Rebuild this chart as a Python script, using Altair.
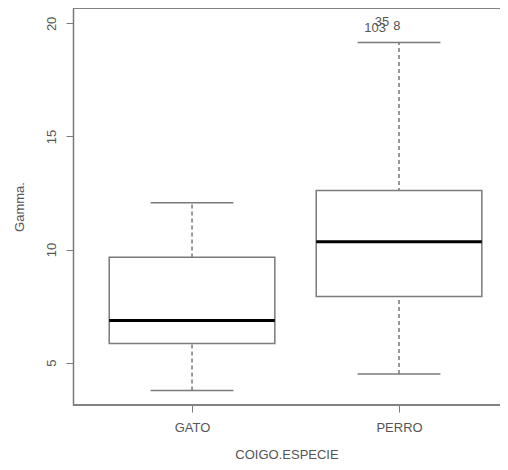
import altair as alt
import pandas as pd

categories = ["GATO", "PERRO"]
lower_whisker = [3.77, 4.50]
q1 = [5.85, 7.93]
median = [6.86, 10.35]
q3 = [9.66, 12.61]
upper_whisker = [12.07, 19.15]

outlier_labels = ["35", "103", "8"]
outlier_values = [20.04, 19.80, 19.90]
outlier_xpos = [1.918, 1.884, 1.99]

df = pd.DataFrame({
    "cat": categories,
    "pos": [1, 2],
    "lo": lower_whisker,
    "q1": q1,
    "med": median,
    "q3": q3,
    "hi": upper_whisker,
})
df["bl"] = df["pos"] - 0.4
df["br"] = df["pos"] + 0.4
df["cl"] = df["pos"] - 0.2
df["cr"] = df["pos"] + 0.2

out_df = pd.DataFrame({"lab": outlier_labels, "val": outlier_values, "x": outlier_xpos})

GREY = "#7a7a7a"
TXT = "#555555"
FONT = "Liberation Sans"

W = 427
H = 397
xscale = alt.Scale(domain=[0.425, 0.425 + W / 207.0], nice=False, zero=False)
yscale = alt.Scale(domain=[3.13, 20.68], nice=False, zero=False)

xaxis = alt.Axis(
    values=[1, 2],
    labelExpr="datum.value == 1 ? 'GATO' : 'PERRO'",
    title="COIGO.ESPECIE",
    grid=False,
    tickSize=7,
    tickColor=GREY,
    domain=False,
    labelColor=TXT,
    titleColor=TXT,
    labelFont=FONT,
    titleFont=FONT,
    labelFontSize=13,
    titleFontSize=13,
    titleFontWeight="normal",
    labelPadding=9,
    titlePadding=14,
)
yaxis = alt.Axis(
    values=[5, 10, 15, 20],
    title="Gamma.",
    grid=False,
    tickSize=7,
    tickColor=GREY,
    domainColor=GREY,
    labelColor=TXT,
    titleColor=TXT,
    labelFont=FONT,
    titleFont=FONT,
    labelFontSize=13,
    titleFontSize=13,
    titleFontWeight="normal",
    labelAngle=270,
    labelAlign="center",
    labelBaseline="bottom",
    labelPadding=8,
    titlePadding=19,
)

base = alt.Chart(df)

whisker = base.mark_rule(color="#333333", strokeDash=[4, 3], strokeWidth=1).encode(
    x=alt.X("pos:Q", scale=xscale, axis=xaxis),
    y=alt.Y("lo:Q", scale=yscale, axis=yaxis),
    y2="hi:Q",
)
caps_lo = base.mark_rule(color=GREY, strokeWidth=1.5).encode(
    x=alt.X("cl:Q", scale=xscale), x2="cr:Q", y=alt.Y("lo:Q", scale=yscale)
)
caps_hi = base.mark_rule(color=GREY, strokeWidth=1.5).encode(
    x=alt.X("cl:Q", scale=xscale), x2="cr:Q", y=alt.Y("hi:Q", scale=yscale)
)
box = base.mark_rect(fill="white", stroke=GREY, strokeWidth=1.5).encode(
    x=alt.X("bl:Q", scale=xscale), x2="br:Q",
    y=alt.Y("q1:Q", scale=yscale), y2="q3:Q",
)
med = base.mark_rule(color="black", strokeWidth=3).encode(
    x=alt.X("bl:Q", scale=xscale), x2="br:Q", y=alt.Y("med:Q", scale=yscale)
)
labels = alt.Chart(out_df).mark_text(color=TXT, font=FONT, fontSize=13).encode(
    x=alt.X("x:Q", scale=xscale), y=alt.Y("val:Q", scale=yscale), text="lab:N"
)
top = base.mark_rule(color=GREY, strokeWidth=1.5).encode(
    x=alt.value(0), x2=alt.value(W), y=alt.value(0)
)
bottom = base.mark_rule(color=GREY, strokeWidth=1.5).encode(
    x=alt.value(0), x2=alt.value(W), y=alt.value(H)
)

chart = alt.layer(whisker, caps_lo, caps_hi, box, med, labels, top, bottom).properties(
    width=W, height=H,
    autosize=alt.AutoSizeParams(type="none"),
    padding={"left": 65, "top": 0, "right": 0, "bottom": 57},
).configure_view(stroke="transparent").configure_axis(domainWidth=1.5)

chart.save("out.html", embed_options={"renderer": "svg", "actions": False})
